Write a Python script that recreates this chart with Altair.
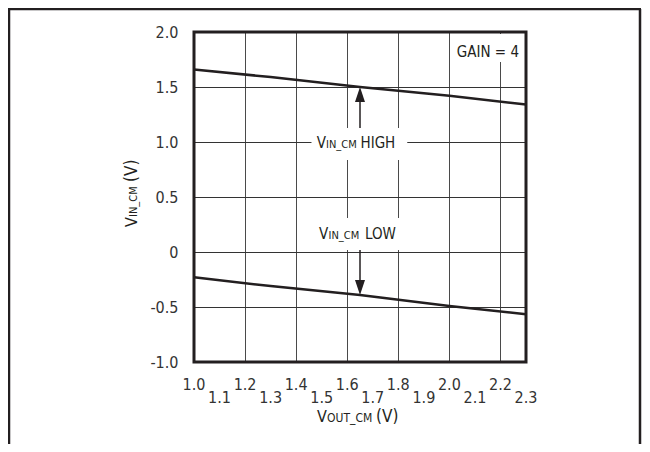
import altair as alt
import pandas as pd

# ---- data ----
x_vals = [1.0, 1.3, 1.65, 2.0, 2.3]
high_vals = [1.66, 1.59, 1.50, 1.42, 1.34]
low_vals = [-0.23, -0.31, -0.39, -0.49, -0.565]
x_ticks = [1.0, 1.1, 1.2, 1.3, 1.4, 1.5, 1.6, 1.7, 1.8, 1.9, 2.0, 2.1, 2.2, 2.3]
y_ticks = [-1.0, -0.5, 0.0, 0.5, 1.0, 1.5, 2.0]

W, H = 332, 330
FONT = "DejaVu Sans Condensed"
INK = "#231f20"
LAB = "#333333"

df = pd.DataFrame({
    "x": x_vals + x_vals,
    "y": high_vals + low_vals,
    "series": ["HIGH"] * len(x_vals) + ["LOW"] * len(x_vals),
})
one = pd.DataFrame({"k": [0]})
tick_df = pd.DataFrame({"v": x_ticks})

xscale = alt.Scale(domain=[1.0, 2.3], nice=False, zero=False)
yscale = alt.Scale(domain=[-1.0, 2.0], nice=False, zero=False)

xaxis = alt.Axis(
    values=x_ticks, title=None, grid=True, gridColor="#4a4a4a", gridWidth=1,
    ticks=False, domain=False, labels=False,
)
yaxis = alt.Axis(
    values=y_ticks, title=None, grid=True, gridColor="#333", gridWidth=1,
    ticks=False, tickSize=0, domain=False, labelFont=FONT, labelFontSize=16,
    labelColor=LAB, labelPadding=16, labelFlush=False, labelOverlap=False,
    labelExpr="datum.value == 0 ? '0' : (datum.value < 0 ? '-' + format(-datum.value, '.1f') : format(datum.value, '.1f'))",
)

lines = alt.Chart(df).mark_line(color=INK, strokeWidth=2.5).encode(
    x=alt.X("x:Q", scale=xscale, axis=xaxis),
    y=alt.Y("y:Q", scale=yscale, axis=yaxis),
    detail="series:N",
)

tick_base = alt.Chart(tick_df).transform_calculate(
    lab="format(datum.v, '.1f')", odd="round(datum.v * 10) % 2"
)
even_labels = tick_base.transform_filter("datum.odd == 0").mark_text(
    font=FONT, fontSize=16, color=LAB, align="center", baseline="alphabetic"
).encode(x=alt.X("v:Q", scale=xscale, axis=xaxis), y=alt.value(358), text="lab:N")
odd_labels = tick_base.transform_filter("datum.odd == 1").mark_text(
    font=FONT, fontSize=16, color=LAB, align="center", baseline="alphabetic"
).encode(x=alt.X("v:Q", scale=xscale, axis=xaxis), y=alt.value(371), text="lab:N")


def box(x1, x2, y1, y2):
    return alt.Chart(one).mark_rect(color="white").encode(
        x=alt.datum(x1), x2=alt.datum(x2), y=alt.datum(y1), y2=alt.datum(y2)
    )


def dtxt(s, size, xv, yv, dx, align="left"):
    return alt.Chart(one).mark_text(
        text=s, font=FONT, fontSize=size, color=INK, align=align,
        baseline="alphabetic", dx=dx,
    ).encode(x=alt.datum(xv), y=alt.datum(yv))


def ptxt(s, size, px, py, angle=0):
    kw = dict(text=s, font=FONT, fontSize=size, color=INK, align="left",
              baseline="alphabetic")
    if angle:
        kw["angle"] = angle
    return alt.Chart(one).mark_text(**kw).encode(x=alt.value(px), y=alt.value(py))


boxes = [
    box(1.46, 1.835, 0.836, 1.127),
    box(1.46, 1.835, 0.018, 0.309),
    box(2.02, 2.292, 1.727, 1.982),
]

ann = [
    # HIGH label
    dtxt("V", 15, 1.65, 0.943, -43.3),
    dtxt("IN_CM", 11, 1.65, 0.943, -34),
    dtxt("HIGH", 15, 1.65, 0.943, 0.5),
    # LOW label
    dtxt("V", 15, 1.65, 0.118, -41),
    dtxt("IN_CM", 11, 1.65, 0.118, -31.5),
    dtxt("LOW", 15, 1.65, 0.118, 5),
    # gain
    dtxt("GAIN = 4", 15, 2.3, 1.775, -7, align="right"),
]

arrows = [
    alt.Chart(one).mark_rule(color=INK, strokeWidth=1.5).encode(
        x=alt.datum(1.65), y=alt.datum(1.127), y2=alt.datum(1.37)),
    alt.Chart(one).mark_point(
        shape="M0,0L0.333,1L-0.333,1Z", filled=True, color=INK, opacity=1,
        size=900, strokeWidth=0).encode(x=alt.datum(1.65), y=alt.datum(1.50)),
    alt.Chart(one).mark_rule(color=INK, strokeWidth=1.5).encode(
        x=alt.datum(1.65), y=alt.datum(0.018), y2=alt.datum(-0.26)),
    alt.Chart(one).mark_point(
        shape="M0,0L0.333,-1L-0.333,-1Z", filled=True, color=INK, opacity=1,
        size=900, strokeWidth=0).encode(x=alt.datum(1.65), y=alt.datum(-0.39)),
]

titles = [
    ptxt("V", 16, 123, 390),
    ptxt("OUT_CM", 12, 133, 390),
    ptxt("(V)", 17, 182, 390),
    ptxt("V", 16, -57.3, 195, angle=270),
    ptxt("IN_CM", 11, -57.3, 185, angle=270),
    ptxt("(V)", 17, -57.3, 150, angle=270),
]

border = alt.Chart(one).mark_rect(filled=False, stroke=INK, strokeWidth=3).encode(
    x=alt.value(0), x2=alt.value(W), y=alt.value(0), y2=alt.value(H))

frame = [
    alt.Chart(one).mark_rule(color=INK, strokeWidth=2.5).encode(
        x=alt.value(-185), y=alt.value(-23), y2=alt.value(430)),
    alt.Chart(one).mark_rule(color=INK, strokeWidth=2.5).encode(
        x=alt.value(446), y=alt.value(-23), y2=alt.value(430)),
    alt.Chart(one).mark_rule(color=INK, strokeWidth=2.5).encode(
        x=alt.value(-186), x2=alt.value(447), y=alt.value(-23)),
]

chart = alt.layer(
    lines, *boxes, even_labels, odd_labels, *ann, *arrows, *titles, border, *frame
).properties(
    width=W, height=H,
    autosize=alt.AutoSizeParams(type="none"),
    padding={"left": 186, "top": 24, "right": 116, "bottom": 82},
    background="white",
).configure_view(strokeWidth=0)

chart.save("out.html", embed_options={"renderer": "svg", "actions": False})
